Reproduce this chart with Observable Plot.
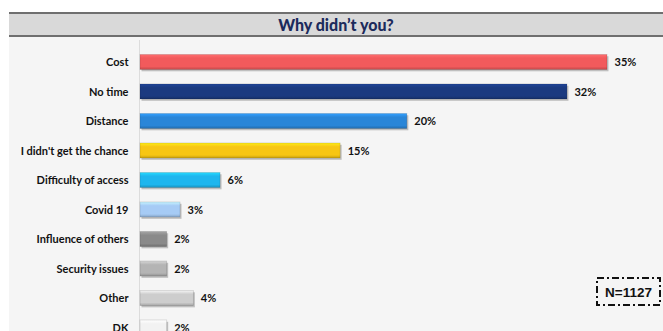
<!DOCTYPE html>
<html>
<head>
<meta charset="utf-8">
<script src="https://cdn.jsdelivr.net/npm/d3@7"></script>
<script src="https://cdn.jsdelivr.net/npm/@observablehq/plot@0.6"></script>
<style>
  html, body { margin: 0; padding: 0; background: #ffffff; overflow: hidden; width: 663px; height: 331px; }
  #titlebar {
    position: absolute; left: 9px; top: 12px; width: 654px; height: 21px;
    background: #d9d9d9; border-top: 2px solid #6f6f6f; border-bottom: 2px solid #6f6f6f;
    text-align: center; font-family: Lato, "Open Sans", sans-serif; font-weight: 900;
    font-size: 16px; line-height: 21px; color: #1c2b5c; box-sizing: content-box;
  }
  #chart { position: absolute; left: 9px; top: 37px; width: 654px; height: 320px; background: #f5f5f5; }
  #chart svg text { font-weight: 700; }
  #nbox { position: absolute; left: 595px; top: 276px; }
</style>
</head>
<body>
<div id="titlebar">Why didn’t you?</div>
<div id="chart"></div>
<svg id="nbox" width="68" height="31">
  <rect x="2" y="2" width="63" height="27" fill="none" stroke="#111" stroke-width="2" stroke-dasharray="7,3,2,3"></rect>
  <text x="33.5" y="20.5" text-anchor="middle" font-family="'Liberation Sans', Arial, sans-serif" font-weight="700" font-size="13.5" fill="#111">N=1127</text>
</svg>
<script>
const categories = ["Cost", "No time", "Distance", "I didn't get the chance", "Difficulty of access", "Covid 19", "Influence of others", "Security issues", "Other", "DK"];
const values = [35, 32, 20, 15, 6, 3, 2, 2, 4, 2];
const valueLabels = ["35%", "32%", "20%", "15%", "6%", "3%", "2%", "2%", "4%", "2%"];
const colors = ["#f25a5c", "#1b3a80", "#2a86d8", "#f7c614", "#1eb6ee", "#a6cbf5", "#8a8a8a", "#b4b4b4", "#cdcdcd", "#f2f2f2"];

const data = categories.map((c, i) => ({category: c, value: values[i], label: valueLabels[i], color: colors[i], grad: `url(#bar-grad-${i})`}));

const chart = Plot.plot({
  width: 654,
  height: 320,
  marginLeft: 131,
  marginRight: 56,
  marginTop: 3,
  marginBottom: 7.5,
  style: {background: "transparent", fontFamily: "Lato, 'Open Sans', sans-serif", fontWeight: "bold"},
  x: {domain: [0, 35], axis: null},
  y: {domain: categories, paddingInner: 0.49, paddingOuter: 0.49, round: false, label: null},
  color: {type: "identity"},
  marks: [
    Plot.ruleX([0], {stroke: "#dcdcdc", strokeWidth: 1, dx: -1}),
    Plot.barX(data, {x: "value", y: "category", fill: "#000", fillOpacity: 0.22, dx: 1.5, dy: 1.8}),
    Plot.barX(data, {x: "value", y: "category", fill: "grad"}),
    Plot.barX(data, {x: "value", y: "category", fill: "none", stroke: "#000", strokeOpacity: 0.15, strokeWidth: 0.8}),
    Plot.text(data, {x: "value", y: "category", text: "label", dx: 7, textAnchor: "start", fontWeight: "bold", fontSize: 11, fill: "#111"}),
    Plot.axisY({tickSize: 0, tickPadding: 12, fontSize: 11, fontWeight: "bold", fill: "#111", label: null})
  ]
});

// gradient definitions for a slight 3D look
const ns = "http://www.w3.org/2000/svg";
const defs = document.createElementNS(ns, "defs");
colors.forEach((c, i) => {
  const g = document.createElementNS(ns, "linearGradient");
  g.setAttribute("id", `bar-grad-${i}`);
  g.setAttribute("x1", "0"); g.setAttribute("y1", "0"); g.setAttribute("x2", "0"); g.setAttribute("y2", "1");
  const base = d3.color(c);
  const stops = [[0, base.brighter(0.5)], [0.25, base], [0.8, base], [1, base.darker(0.6)]];
  stops.forEach(([o, col]) => {
    const s = document.createElementNS(ns, "stop");
    s.setAttribute("offset", o);
    s.setAttribute("stop-color", col.formatHex());
    g.appendChild(s);
  });
  defs.appendChild(g);
});
chart.insertBefore(defs, chart.firstChild);
document.getElementById("chart").appendChild(chart);
</script>
</body>
</html>
